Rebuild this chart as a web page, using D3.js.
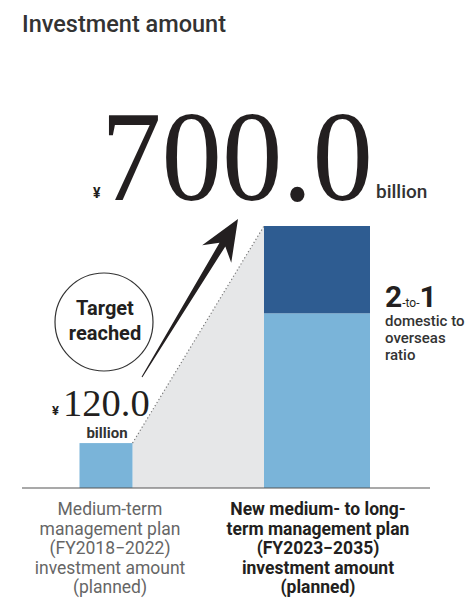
<!DOCTYPE html>
<html>
<head>
<meta charset="utf-8">
<script src="https://cdn.jsdelivr.net/npm/d3@7"></script>
<style>
  body { margin: 0; background: #fff; }
  text { font-family: Roboto, "Noto Sans", sans-serif; }
</style>
</head>
<body>
<div id="chart"></div>
<script>
// Data
var plans = ["Medium-term plan", "New medium- to long-term plan"];
var totals = [120.0, 700.0];
// split of the new plan: domestic (bottom) and overseas (top), 2-to-1
var splitNames = ["domestic", "overseas"];
var splitValues = [700.0 * 2 / 3, 700.0 / 3];
var totalLabels = ["120.0", "700.0"];
var planLabels = [
    ["Medium-term", "management plan", "(FY2018\u22122022)", "investment amount", "(planned)"],
    ["New medium- to long-", "term management plan", "(FY2023\u22122035)", "investment amount", "(planned)"]
];
var ratioLines = ["domestic to", "overseas", "ratio"];

// SVG area
var svgWidth = 471;
var svgHeight = 601;

var svg = d3.select("#chart")
    .append("svg")
    .attr("width", svgWidth)
    .attr("height", svgHeight);

var baseY = 488;
var topY = 226;

// Scales
var yScale = d3.scaleLinear()
    .domain([0, 700])
    .range([baseY, topY]);

var xScale = d3.scalePoint()
    .domain(plans)
    .range([106, 317]);

var barWidth = [53, 106];

var lightBlue = "#7ab4d9";
var darkBlue = "#2e5c91";

// Title
svg.append("text")
    .attr("x", 22)
    .attr("y", 32)
    .attr("font-size", 23.5)
    .attr("font-weight", 500)
    .attr("fill", "#333")
    .text("Investment amount");

// grey growth area between the two bars
var x0r = xScale(plans[0]) + barWidth[0] / 2;
var x1l = xScale(plans[1]) - barWidth[1] / 2;
svg.append("path")
    .attr("d", d3.line()([
        [x0r, yScale(0)], [x0r, yScale(totals[0])],
        [x1l, yScale(totals[1])], [x1l, yScale(0)]
    ]))
    .attr("fill", "#e6e7e8");

svg.append("line")
    .attr("x1", x0r)
    .attr("y1", yScale(totals[0]))
    .attr("x2", x1l)
    .attr("y2", yScale(totals[1]))
    .attr("stroke", "#777")
    .attr("stroke-width", 1.2)
    .attr("stroke-dasharray", "1.2,2.4");

// Old plan bar
svg.append("rect")
    .attr("x", xScale(plans[0]) - barWidth[0] / 2)
    .attr("y", yScale(totals[0]))
    .attr("width", barWidth[0])
    .attr("height", yScale(0) - yScale(totals[0]))
    .attr("fill", lightBlue);

// New plan stacked bar
var stackData = d3.stack().keys(splitNames)([{
    domestic: splitValues[0], overseas: splitValues[1]
}]);
svg.selectAll(".seg")
    .data(stackData)
    .enter().append("rect")
    .attr("class", "seg")
    .attr("x", xScale(plans[1]) - barWidth[1] / 2)
    .attr("y", d => yScale(d[0][1]))
    .attr("width", barWidth[1])
    .attr("height", d => yScale(d[0][0]) - yScale(d[0][1]))
    .attr("fill", (d, i) => i === 0 ? lightBlue : darkBlue);

// Baseline axis
svg.append("line")
    .attr("x1", 22)
    .attr("x2", 430)
    .attr("y1", baseY)
    .attr("y2", baseY)
    .attr("stroke", "#555")
    .attr("stroke-width", 1.2);

// Big value 700.0
svg.append("text")
    .attr("x", 93)
    .attr("y", 198)
    .attr("font-size", 14)
    .attr("font-weight", 700)
    .attr("fill", "#231f20")
    .text("\u00a5");
svg.append("text")
    .attr("transform", "translate(101,200) scale(0.93,1)")
    .style("font-family", "'Liberation Serif', serif")
    .attr("font-size", 130)
    .attr("fill", "#231f20")
    .text(totalLabels[1]);
svg.append("text")
    .attr("x", 376)
    .attr("y", 198)
    .attr("font-size", 19)
    .attr("font-weight", 500)
    .attr("fill", "#333")
    .text("billion");

// Small value 120.0
svg.append("text")
    .attr("x", 52)
    .attr("y", 415)
    .attr("font-size", 13)
    .attr("font-weight", 700)
    .attr("fill", "#231f20")
    .text("\u00a5");
svg.append("text")
    .attr("x", 63)
    .attr("y", 416)
    .style("font-family", "'Liberation Serif', serif")
    .attr("font-size", 38.5)
    .attr("fill", "#231f20")
    .text(totalLabels[0]);
svg.append("text")
    .attr("x", 107)
    .attr("y", 438)
    .attr("text-anchor", "middle")
    .attr("font-size", 15)
    .attr("font-weight", 700)
    .attr("fill", "#333")
    .text("billion");

// Target reached badge
svg.append("circle")
    .attr("cx", 104)
    .attr("cy", 322)
    .attr("r", 49)
    .attr("fill", "#fff")
    .attr("stroke", "#333")
    .attr("stroke-width", 1.2);
svg.append("text")
    .attr("text-anchor", "middle")
    .attr("font-size", 20)
    .attr("font-weight", 700)
    .attr("fill", "#231f20")
    .selectAll("tspan")
    .data(["Target", "reached"])
    .enter().append("tspan")
    .attr("x", 105)
    .attr("y", (d, i) => 315 + i * 25)
    .text(d => d);

// Arrow (tapered shaft + notched head)
var tail = [142, 377], tip = [238, 219];
var dx = tip[0] - tail[0], dy = tip[1] - tail[1];
var len = Math.sqrt(dx * dx + dy * dy);
var u = [dx / len, dy / len], n = [-u[1], u[0]];
function pt(along, side) {
    return [tail[0] + u[0] * along + n[0] * side, tail[1] + u[1] * along + n[1] * side];
}
var headLen = 41, notch = 30, headHalf = 17;
svg.append("path")
    .attr("d", d3.line()([
        pt(0, -0.5),
        pt(len - notch, -3.4),
        pt(len - headLen, -headHalf),
        pt(len, 0),
        pt(len - headLen, headHalf),
        pt(len - notch, 3.4),
        pt(0, 0.5)
    ]) + "Z")
    .attr("fill", "#231f20");

// 2-to-1 ratio annotation
var ratio = svg.append("text")
    .attr("x", 385)
    .attr("y", 307)
    .attr("fill", "#231f20")
    .attr("font-weight", 700);
ratio.append("tspan").attr("font-size", 30).text("2");
ratio.append("tspan").attr("font-size", 12).attr("font-weight", 400).text("-to-");
ratio.append("tspan").attr("font-size", 30).text("1");

svg.append("g")
    .selectAll("text")
    .data(ratioLines)
    .enter().append("text")
    .attr("x", 385)
    .attr("y", (d, i) => 326 + i * 17)
    .attr("font-size", 15)
    .attr("font-weight", 500)
    .attr("fill", "#333")
    .text(d => d);

// Category labels under the axis
var labelCenters = [110, 318];
planLabels.forEach(function (lines, j) {
    svg.append("text")
        .attr("text-anchor", "middle")
        .attr("font-size", 17.5)
        .attr("font-weight", j === 0 ? 400 : 700)
        .attr("fill", j === 0 ? "#666" : "#231f20")
        .selectAll("tspan")
        .data(lines)
        .enter().append("tspan")
        .attr("x", labelCenters[j])
        .attr("y", (d, i) => 515 + i * 19.5)
        .text(d => d);
});
</script>
</body>
</html>
